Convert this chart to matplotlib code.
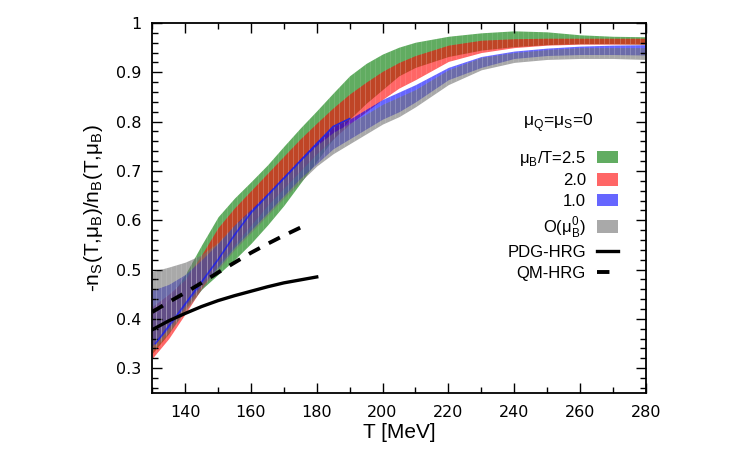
import numpy as np
import matplotlib
matplotlib.use('Agg')
import matplotlib.pyplot as plt
from matplotlib.patches import Patch
from matplotlib.lines import Line2D

# Temperature grid [MeV]
T = [130, 135, 140, 145, 150, 155, 160, 165, 170, 175, 180, 185, 190, 195, 200, 205, 210, 220, 230, 240, 250, 260, 270, 280]

# mu_B/T = 2.5 band
green_lo = [0.33, 0.37, 0.42, 0.46, 0.49, 0.52, 0.553, 0.59, 0.63, 0.675, 0.72, 0.765, 0.805, 0.837, 0.865, 0.893, 0.91, 0.932, 0.945, 0.952, 0.956, 0.958, 0.958, 0.957]
green_hi = [0.40, 0.44, 0.49, 0.55, 0.607, 0.645, 0.678, 0.712, 0.75, 0.787, 0.822, 0.858, 0.893, 0.918, 0.937, 0.951, 0.961, 0.973, 0.98, 0.984, 0.982, 0.976, 0.973, 0.972]

# mu_B/T = 2.0 band
red_lo = [0.32, 0.36, 0.41, 0.462, 0.51, 0.55, 0.59, 0.63, 0.665, 0.70, 0.735, 0.765, 0.795, 0.82, 0.845, 0.868, 0.885, 0.922, 0.94, 0.95, 0.955, 0.957, 0.957, 0.957]
red_hi = [0.425, 0.45, 0.48, 0.53, 0.585, 0.625, 0.66, 0.695, 0.73, 0.765, 0.797, 0.828, 0.856, 0.88, 0.902, 0.92, 0.934, 0.955, 0.965, 0.968, 0.969, 0.969, 0.969, 0.969]

# mu_B/T = 1.0 band
blue_lo = [0.345, 0.38, 0.425, 0.468, 0.505, 0.545, 0.58, 0.615, 0.65, 0.685, 0.715, 0.745, 0.765, 0.785, 0.805, 0.82, 0.84, 0.885, 0.91, 0.928, 0.934, 0.936, 0.936, 0.935]
blue_hi = [0.458, 0.47, 0.49, 0.52, 0.553, 0.59, 0.622, 0.655, 0.69, 0.725, 0.76, 0.79, 0.805, 0.825, 0.845, 0.86, 0.875, 0.91, 0.932, 0.943, 0.949, 0.953, 0.955, 0.956]
line_T = [131, 135, 140, 145, 150, 155, 160, 165, 170, 175, 180, 185, 190]
blue_line = [0.35, 0.385, 0.43, 0.475, 0.52, 0.57, 0.615, 0.65, 0.685, 0.72, 0.755, 0.79, 0.806]

# O(mu_B^0) band
gray_lo = [0.335, 0.372, 0.415, 0.46, 0.50, 0.54, 0.575, 0.61, 0.645, 0.678, 0.71, 0.735, 0.755, 0.775, 0.795, 0.81, 0.83, 0.875, 0.905, 0.92, 0.926, 0.928, 0.928, 0.926]
gray_hi = [0.496, 0.505, 0.515, 0.53, 0.555, 0.59, 0.62, 0.652, 0.685, 0.72, 0.752, 0.778, 0.797, 0.815, 0.835, 0.85, 0.865, 0.905, 0.93, 0.94, 0.946, 0.95, 0.95, 0.95]

# HRG curves
pdg_T = [130, 135, 140, 145, 150, 155, 160, 165, 170, 175, 180]
pdg = [0.378, 0.396, 0.411, 0.425, 0.437, 0.447, 0.456, 0.465, 0.473, 0.479, 0.485]
qm_T = [130, 135, 140, 145, 150, 155, 160, 165, 170, 175]
qm = [0.414, 0.434, 0.453, 0.473, 0.494, 0.514, 0.534, 0.552, 0.569, 0.585]

plt.rcParams['font.family'] = ['Liberation Sans', 'DejaVu Sans']

fig, ax = plt.subplots(figsize=(7.5, 4.5), dpi=100)
fig.subplots_adjust(left=0.203, right=0.861, bottom=0.127, top=0.949)

c_green, c_red, c_blue, c_gray = '#007a00', '#ff0000', '#0000ff', '#717171'
bands = [(green_lo, green_hi, c_green, 0.62),
         (red_lo, red_hi, c_red, 0.6),
         (blue_lo, blue_hi, c_blue, 0.6),
         (gray_lo, gray_hi, c_gray, 0.6)]
seam_x = np.arange(131, 280, 1.55)
for lo, hi, col, a in bands:
    poly = ax.fill_between(T, lo, hi, color=col, alpha=a, lw=0)
    # faint vertical seams as in the rendered original
    seams = ax.vlines(seam_x, 0.25, 1.0, color='white', lw=0.5, alpha=0.15)
    seams.set_clip_path(poly.get_paths()[0], ax.transData)
    if col == c_blue:
        ax.plot(line_T, blue_line, color='#2525e0', lw=1.2)

ax.plot(pdg_T, pdg, color='black', lw=2.4)
ax.plot(qm_T, qm, color='black', lw=2.8, dashes=(3.2, 2.6))

ax.set_xlim(130, 280)
ax.set_ylim(0.25, 1.0)
ax.set_xticks(np.arange(140, 281, 20))
ax.set_xticks(np.arange(130, 281, 10), minor=True)
ax.set_yticks(np.arange(0.3, 1.01, 0.1))
ax.set_yticks(np.arange(0.26, 1.0, 0.02), minor=True)
ax.set_yticklabels(['0.3', '0.4', '0.5', '0.6', '0.7', '0.8', '0.9', '1'])
ax.tick_params(which='both', direction='in', top=True, right=True, width=1)
ax.tick_params(which='major', length=7)
ax.tick_params(which='minor', length=4)
ax.tick_params(axis='x', pad=9)
ax.tick_params(axis='y', pad=8)
for lab in ax.get_xticklabels() + ax.get_yticklabels():
    lab.set_fontfamily('DejaVu Sans')
    lab.set_fontsize(11.5)
for sp in ax.spines.values():
    sp.set_linewidth(1.3)

ax.set_xlabel('T [MeV]', fontsize=15, labelpad=2)
ax.set_ylabel('-n$_\\mathregular{S}$(T,μ$_\\mathregular{B}$)/n$_\\mathregular{B}$(T,μ$_\\mathregular{B}$)',
              fontsize=15, labelpad=8)

# legend
handles = [Patch(color=c_green, alpha=0.62, lw=0),
           Patch(color=c_red, alpha=0.6, lw=0),
           Patch(color=c_blue, alpha=0.6, lw=0),
           Patch(color=c_gray, alpha=0.6, lw=0),
           Line2D([], [], color='black', lw=2.4),
           Line2D([], [], color='black', lw=2.8, dashes=(3.2, 2.6))]
labels = ['μ$_\\mathregular{B}$/T=2.5', '2.0', '1.0', 'O(μ$_\\mathregular{B}^\\mathregular{0}$)', 'PDG-HRG', 'QM-HRG']
ax.legend(handles, labels, loc='upper right', bbox_to_anchor=(0.943, 0.66), frameon=False,
          markerfirst=False, fontsize=12, handlelength=1.25, handleheight=0.75,
          handletextpad=0.65, labelspacing=0.33, borderpad=0, borderaxespad=0)
ax.text(0.893, 0.73, 'μ$_\\mathregular{Q}$=μ$_\\mathregular{S}$=0', transform=ax.transAxes,
        ha='right', va='center', fontsize=12.5)

fig.savefig('out.png', dpi=100)
